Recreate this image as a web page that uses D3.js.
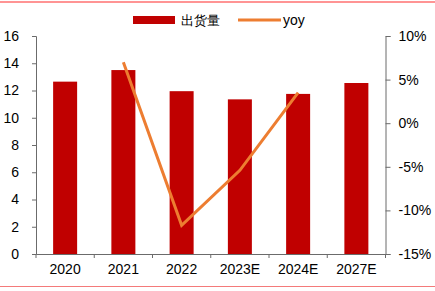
<!DOCTYPE html>
<meta charset="utf-8">
<script src="https://d3js.org/d3.v7.min.js"></script>
<style>
  body { margin: 0; background: #fff; }
  text { font-family: "Liberation Sans", Arial, sans-serif; }
</style>
<div id="chart"></div>
<script>

// data
var years = ["2020", "2021", "2022", "2023E", "2024E", "2027E"];
var shipments = [12.65, 13.5, 11.95, 11.35, 11.75, 12.55];
var yoyYears = ["2021", "2022", "2023E", "2024E"];
var yoy = [7.0, -11.7, -5.4, 3.5];
var leftTicks = [0, 2, 4, 6, 8, 10, 12, 14, 16];
var rightTicks = [-15, -10, -5, 0, 5, 10];

var W = 435, H = 291;
var margin = {top: 36, right: 50, bottom: 37, left: 36},
    width = 385.5 - margin.left,
    height = 254 - margin.top;

var svg = d3.select("#chart").append("svg")
    .attr("width", W)
    .attr("height", H);

// red frame lines top / bottom
svg.append("line").attr("x1", 0).attr("x2", W).attr("y1", 2).attr("y2", 2)
  .attr("stroke", "#ff2a2a").attr("stroke-width", 1.2);
svg.append("line").attr("x1", 0).attr("x2", W).attr("y1", 286.5).attr("y2", 286.5)
  .attr("stroke", "#f47a7a").attr("stroke-width", 1.2);

var g = svg.append("g")
    .attr("transform", "translate(" + margin.left + "," + margin.top + ")");

var x = d3.scaleBand().domain(years).range([0, width]).paddingInner(0.58).paddingOuter(0.29);
var xTicks = d3.scaleBand().domain(years).range([0, width]);
var y = d3.scaleLinear().domain([0, 16]).range([height, 0]);
var y2 = d3.scaleLinear().domain([-15, 10]).range([height, 0]);

// bars
g.selectAll(".bar")
  .data(years)
  .enter().append("rect")
    .attr("class", "bar")
    .attr("x", function(d) { return xTicks(d) + xTicks.bandwidth() / 2 - 12; })
    .attr("width", 24)
    .attr("y", function(d, i) { return y(shipments[i]); })
    .attr("height", function(d, i) { return height - y(shipments[i]); })
    .attr("fill", "#c00000");

// yoy line
var line = d3.line()
  .x(function(d, i) { return xTicks(yoyYears[i]) + xTicks.bandwidth() / 2; })
  .y(function(d) { return y2(d); });
g.append("path")
  .datum(yoy)
  .attr("d", line)
  .attr("fill", "none")
  .attr("stroke", "#ed7d31")
  .attr("stroke-width", 3);

var axisColor = "#6b6b6b";

// left axis
var yAxis = g.append("g")
  .call(d3.axisLeft(y).tickValues(leftTicks).tickSize(4).tickPadding(13).tickSizeOuter(4));
// right axis
var y2Axis = g.append("g")
  .attr("transform", "translate(" + width + ",0)")
  .call(d3.axisRight(y2).tickValues(rightTicks).tickSize(5).tickPadding(8)
    .tickFormat(function(d) { return d + "%"; }));
// bottom axis with ticks at category boundaries
var xAxis = g.append("g")
  .attr("transform", "translate(0," + height + ")")
  .call(d3.axisBottom(xTicks).tickSize(0).tickPadding(10));
xAxis.selectAll(".bound")
  .data(d3.range(years.length + 1))
  .enter().append("line")
    .attr("class", "bound")
    .attr("x1", function(i) { return i * xTicks.step(); })
    .attr("x2", function(i) { return i * xTicks.step(); })
    .attr("y1", 0).attr("y2", 4)
    .attr("stroke", axisColor);

[yAxis, y2Axis, xAxis].forEach(function(a) {
  a.select(".domain").attr("stroke", axisColor);
  a.selectAll(".tick line").attr("stroke", axisColor);
  a.selectAll("text").attr("font-size", 14).attr("fill", "#000")
    .attr("font-family", "'Liberation Sans', Arial, sans-serif");
});

// legend
var leg = svg.append("g");
leg.append("rect").attr("x", 133).attr("y", 16).attr("width", 42).attr("height", 8).attr("fill", "#c00000");
leg.append("text").attr("x", 181).attr("y", 25).attr("font-size", 13)
  .attr("font-family", "'Noto Sans CJK SC', sans-serif").text("出货量");
leg.append("line").attr("x1", 238).attr("x2", 281).attr("y1", 20).attr("y2", 20)
  .attr("stroke", "#ed7d31").attr("stroke-width", 3);
leg.append("text").attr("x", 283).attr("y", 25).attr("font-size", 14).text("yoy");

</script>
